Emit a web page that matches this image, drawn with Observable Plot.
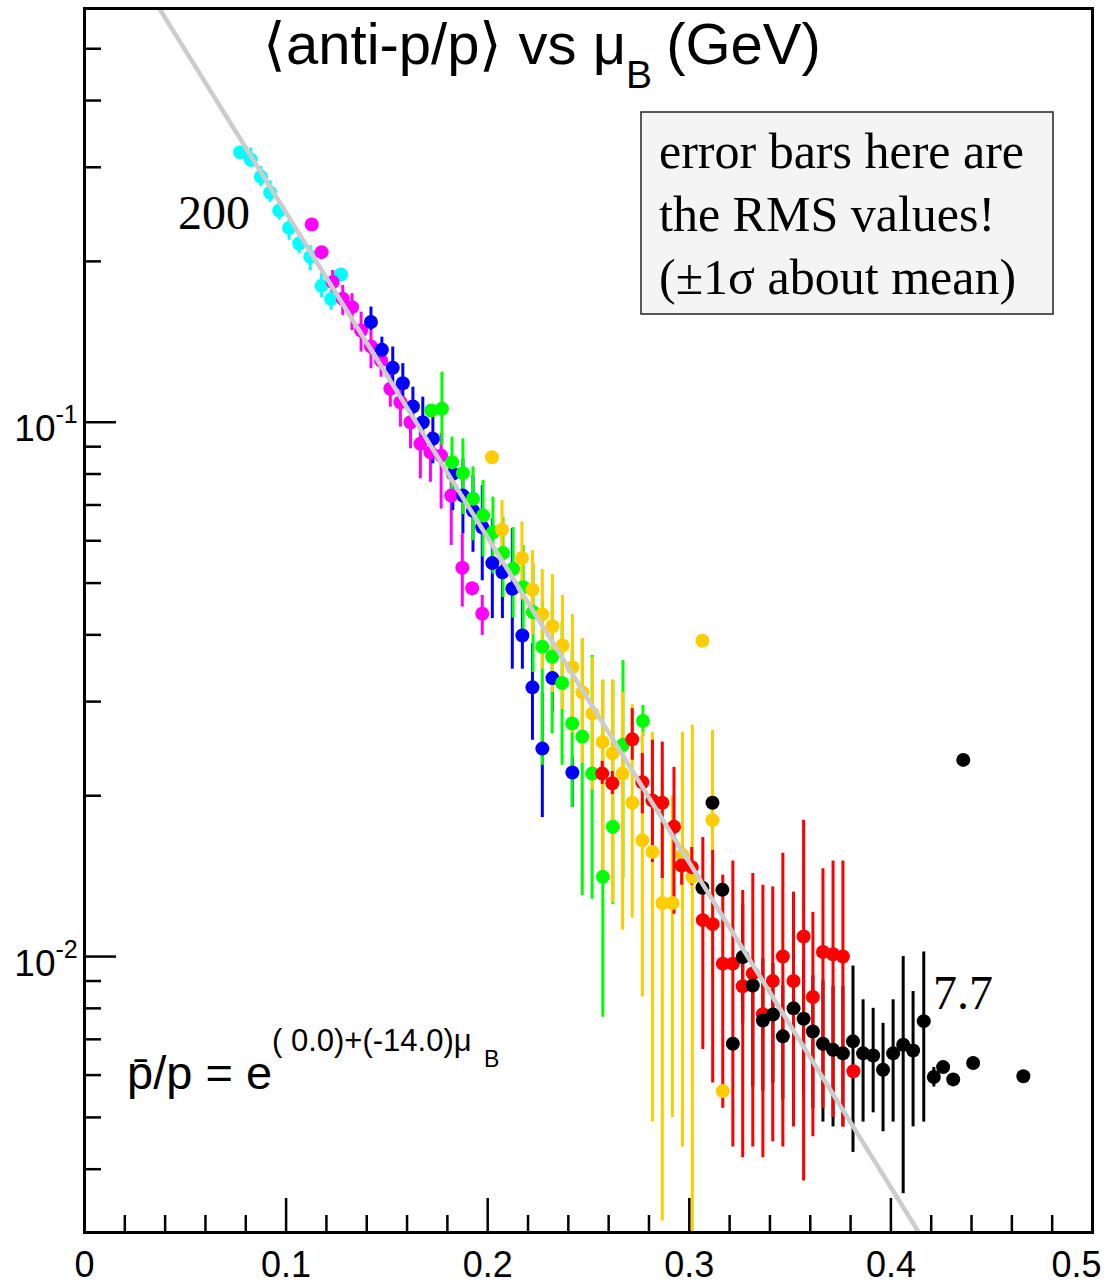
<!DOCTYPE html>
<html>
<head>
<meta charset="utf-8">
<script src="https://cdn.jsdelivr.net/npm/d3@7"></script>
<script src="https://cdn.jsdelivr.net/npm/@observablehq/plot@0.6"></script>
<style>
  html, body { margin: 0; padding: 0; background: #fff; }
  svg { display: block; }
</style>
</head>
<body>
<div id="chart"></div>
<script>
// <anti-p/p> versus baryon chemical potential, one series per beam energy (GeV).
// Each point: mu_B, mean ratio, and the ends of its +-1 sigma (RMS) bar.

const energies = ["200", "62.4", "39", "27", "19.6", "11.5", "7.7"];
const colors   = ["#00ffff", "#ff00ff", "#0000ff", "#00ff00", "#ffcc00", "#ff0000", "#000000"];

const mu200    = [0.0772, 0.0825, 0.0875, 0.0921, 0.0966, 0.1015, 0.1065, 0.1120, 0.1176, 0.1223, 0.1272];
const ratio200 = [0.320, 0.310, 0.288, 0.269, 0.249, 0.231, 0.216, 0.204, 0.180, 0.170, 0.189];
const lo200    = [0.312, 0.300, 0.276, 0.258, 0.239, 0.219, 0.207, 0.192, 0.171, 0.162, 0.184];
const hi200    = [0.328, 0.326, 0.301, 0.283, 0.260, 0.242, 0.227, 0.214, 0.190, 0.177, 0.194];

const mu62    = [0.1127, 0.1176, 0.1231, 0.1281, 0.1327, 0.1372, 0.1421, 0.1471, 0.1517, 0.1567, 0.1617, 0.1666, 0.1716, 0.1769, 0.1819, 0.1874, 0.1923, 0.1973];
const ratio62 = [0.2344, 0.2081, 0.1829, 0.1703, 0.1642, 0.1485, 0.1386, 0.1305, 0.1155, 0.1090, 0.1000, 0.0911, 0.0878, 0.0866, 0.0729, 0.0534, 0.0489, 0.0438];
const lo62    = [0.231, 0.205, 0.1742, 0.1585, 0.1485, 0.1353, 0.1259, 0.1214, 0.1067, 0.0979, 0.0892, 0.0784, 0.0772, 0.0688, 0.0588, 0.0451, 0.0478, 0.0399];
const hi62    = [0.238, 0.211, 0.1923, 0.1803, 0.1740, 0.1607, 0.1485, 0.1402, 0.1250, 0.1180, 0.1067, 0.1007, 0.0958, 0.0953, 0.0854, 0.0618, 0.0500, 0.0474];

const mu39    = [0.1421, 0.1475, 0.1529, 0.1579, 0.1629, 0.1678, 0.1728, 0.1827, 0.1877, 0.1927, 0.1973, 0.2023, 0.2073, 0.2122, 0.2172, 0.2222, 0.2271, 0.2321, 0.2420];
const ratio39 = [0.1540, 0.1367, 0.1265, 0.1183, 0.1070, 0.1000, 0.0931, 0.0801, 0.0729, 0.0683, 0.0636, 0.0545, 0.0524, 0.0488, 0.0399, 0.0319, 0.0245, 0.0332, 0.0221];
const lo39    = [0.1485, 0.1287, 0.1147, 0.1082, 0.0979, 0.0898, 0.0836, 0.0683, 0.0618, 0.0571, 0.0505, 0.0429, 0.0429, 0.0345, 0.0345, 0.0254, 0.0182, 0.0287, 0.0190];
const hi39    = [0.1643, 0.1443, 0.1383, 0.1287, 0.1163, 0.1114, 0.1044, 0.0860, 0.0854, 0.0795, 0.0761, 0.0659, 0.0632, 0.0632, 0.0491, 0.0385, 0.0311, 0.0380, 0.0236];

const mu27    = [0.1720, 0.1773, 0.1823, 0.1877, 0.1927, 0.1977, 0.2026, 0.2076, 0.2126, 0.2176, 0.2225, 0.2271, 0.2320, 0.2369, 0.2419, 0.2469, 0.2518, 0.2571, 0.2621, 0.2671, 0.2770];
const ratio27 = [0.1052, 0.1060, 0.0842, 0.0803, 0.0719, 0.0669, 0.0622, 0.0569, 0.0532, 0.0491, 0.0441, 0.0380, 0.0364, 0.0325, 0.0273, 0.0258, 0.0220, 0.0141, 0.0175, 0.0249, 0.0276];
const lo27    = [0.103, 0.0905, 0.0745, 0.0672, 0.0600, 0.0560, 0.0520, 0.0470, 0.0430, 0.0395, 0.0340, 0.0228, 0.0261, 0.0228, 0.0190, 0.0130, 0.0128, 0.0077, 0.0125, 0.0140, 0.0258];
const hi27    = [0.107, 0.1241, 0.0938, 0.0931, 0.0825, 0.0778, 0.0724, 0.0664, 0.0635, 0.0588, 0.0544, 0.0467, 0.0470, 0.0422, 0.0374, 0.0390, 0.0366, 0.0329, 0.0329, 0.0358, 0.0295];

const mu19    = [0.2021, 0.2071, 0.2170, 0.2222, 0.2271, 0.2321, 0.2371, 0.2420, 0.2470, 0.2520, 0.2570, 0.2619, 0.2669, 0.2717, 0.2767, 0.2817, 0.2866, 0.2916, 0.2966, 0.3015, 0.3065, 0.3115, 0.3166];
const ratio19 = [0.0860, 0.0629, 0.0557, 0.0486, 0.0437, 0.0415, 0.0382, 0.0348, 0.0312, 0.0285, 0.0252, 0.0240, 0.0220, 0.0194, 0.0165, 0.0157, 0.0126, 0.0126, 0.0155, 0.0141, 0.0390, 0.0180, 0.0056];
const lo19    = [0.0855, 0.0545, 0.0465, 0.0400, 0.0345, 0.0312, 0.0290, 0.0262, 0.0230, 0.0205, 0.0144, 0.0126, 0.0112, 0.0118, 0.0084, 0.0049, 0.0032, 0.0050, 0.0044, 0.0020, 0.0388, 0.0092, 0.0055];
const hi19    = [0.0865, 0.0714, 0.0651, 0.0575, 0.0530, 0.0519, 0.0474, 0.0437, 0.0394, 0.0363, 0.0329, 0.0329, 0.0312, 0.0296, 0.0263, 0.0263, 0.0214, 0.0200, 0.0263, 0.0271, 0.0392, 0.0265, 0.0057];

const mu11    = [0.2568, 0.2618, 0.2717, 0.2767, 0.2817, 0.2866, 0.2924, 0.2962, 0.3012, 0.3067, 0.3116, 0.3166, 0.3216, 0.3265, 0.3315, 0.3365, 0.3414, 0.3464, 0.3517, 0.3567, 0.3613, 0.3663, 0.3713, 0.3762, 0.3814];
const ratio11 = [0.0220, 0.0211, 0.0255, 0.0212, 0.0196, 0.0194, 0.0175, 0.0148, 0.0147, 0.0117, 0.0115, 0.0097, 0.0097, 0.0088, 0.0093, 0.0078, 0.0090, 0.0100, 0.0090, 0.0109, 0.0084, 0.0102, 0.0101, 0.0100, 0.0061];
const lo11    = [0.0210, 0.0201, 0.0233, 0.0185, 0.0150, 0.0140, 0.0120, 0.0136, 0.0136, 0.0067, 0.0058, 0.0052, 0.0044, 0.0042, 0.0044, 0.0042, 0.0045, 0.0044, 0.0048, 0.0038, 0.0046, 0.0052, 0.0050, 0.0048, 0.0060];
const hi11    = [0.0232, 0.0222, 0.0291, 0.0240, 0.0254, 0.0252, 0.0226, 0.0160, 0.0160, 0.0167, 0.0158, 0.0142, 0.0151, 0.0133, 0.0143, 0.0136, 0.0135, 0.0156, 0.0132, 0.0180, 0.0121, 0.0146, 0.0151, 0.0151, 0.0062];

const mu7    = [0.3065, 0.3115, 0.3164, 0.3216, 0.3265, 0.3315, 0.3365, 0.3415, 0.3464, 0.3517, 0.3567, 0.3613, 0.3663, 0.3713, 0.3762, 0.3812, 0.3862, 0.3912, 0.3961, 0.4011, 0.4061, 0.4110, 0.4163, 0.4213, 0.4259, 0.4309, 0.4359, 0.4408, 0.4657];
const ratio7 = [0.01345, 0.0194, 0.01333, 0.00687, 0.00998, 0.00883, 0.00759, 0.00779, 0.00709, 0.00800, 0.00765, 0.00724, 0.00687, 0.00669, 0.00659, 0.00694, 0.00659, 0.00653, 0.00614, 0.00659, 0.00684, 0.00667, 0.00757, 0.00595, 0.00621, 0.00589, 0.02334, 0.00632, 0.00597];
const lo7    = [0.0133, 0.0192, 0.0132, 0.0068, 0.0075, 0.0057, 0.0056, 0.0058, 0.0054, 0.0060, 0.0055, 0.0052, 0.0049, 0.0048, 0.0048, 0.0043, 0.0049, 0.0051, 0.0047, 0.0049, 0.0036, 0.0048, 0.0049, 0.0057, 0.0061, 0.0058, 0.0232, 0.0062, 0.0059];
const hi7    = [0.0136, 0.0196, 0.0135, 0.0070, 0.0125, 0.0098, 0.0099, 0.0097, 0.0088, 0.0098, 0.0098, 0.0092, 0.0090, 0.0088, 0.0088, 0.0096, 0.0083, 0.0080, 0.0075, 0.0083, 0.0100, 0.0086, 0.0102, 0.0062, 0.0063, 0.0060, 0.0235, 0.0064, 0.0061];

// fit: ratio = exp(a + b * mu_B)
const fitA = 0.0;
const fitB = -14.0;
const fitMu = [0.0, 0.5];

// axis ticks
const xMajor = [0, 0.1, 0.2, 0.3, 0.4, 0.5];
const xLabels = ["0", "0.1", "0.2", "0.3", "0.4", "0.5"];
const xMinor = [0.02, 0.04, 0.06, 0.08, 0.12, 0.14, 0.16, 0.18, 0.22, 0.24, 0.26, 0.28, 0.32, 0.34, 0.36, 0.38, 0.42, 0.44, 0.46, 0.48];
const yMajor = [0.1, 0.01];
const yExponents = ["-1", "-2"];
const yMinor = [0.004, 0.005, 0.006, 0.007, 0.008, 0.009, 0.02, 0.03, 0.04, 0.05, 0.06, 0.07, 0.08, 0.09, 0.2, 0.3, 0.4, 0.5];

const seriesByEnergy = {
  "200":  [mu200, ratio200, lo200, hi200],
  "62.4": [mu62, ratio62, lo62, hi62],
  "39":   [mu39, ratio39, lo39, hi39],
  "27":   [mu27, ratio27, lo27, hi27],
  "19.6": [mu19, ratio19, lo19, hi19],
  "11.5": [mu11, ratio11, lo11, hi11],
  "7.7":  [mu7, ratio7, lo7, hi7]
};

function rowsFor(order) {
  return order.flatMap(e => {
    const [m, r, lo, hi] = seriesByEnergy[e];
    return m.map((mu, i) => ({energy: e, mu, ratio: r[i], lo: lo[i], hi: hi[i]}));
  });
}
// bars: red drawn over black; markers: black drawn last
const barRows = rowsFor(["200", "62.4", "39", "27", "19.6", "7.7", "11.5"]);
const dotRows = rowsFor(["200", "62.4", "39", "27", "19.6", "11.5", "7.7"]);
const fitRows = fitMu.map(mu => ({mu, ratio: Math.exp(fitA + fitB * mu)}));

const sans = "'Liberation Sans', Arial, Helvetica, sans-serif";
const serif = "'Liberation Serif', 'Times New Roman', serif";

// inward-pointing ticks only; labels are drawn separately
const tickOpts = {label: null, fill: "none", stroke: "#000", strokeWidth: 2.5};

const chart = Plot.plot({
  width: 1114,
  height: 1284,
  marginLeft: 84,
  marginRight: 22,
  marginTop: 8,
  marginBottom: 52,
  style: {background: "#fff", fontFamily: sans},
  x: {domain: [0, 0.5], axis: null, label: null},
  y: {type: "log", domain: [0.003045, 0.5947], axis: null, label: null},
  color: {domain: energies, range: colors},
  marks: [
    Plot.ruleX(barRows, {x: "mu", y1: "lo", y2: "hi", stroke: "energy", strokeWidth: 3, clip: true}),
    Plot.dot(dotRows, {x: "mu", y: "ratio", r: 7, fill: "energy", clip: true}),
    Plot.line(fitRows, {x: "mu", y: "ratio", stroke: "#cccccc", strokeWidth: 4.5, clip: true}),

    Plot.axisX({anchor: "bottom", ticks: xMinor, tickSize: -17, ...tickOpts}),
    Plot.axisX({anchor: "bottom", ticks: xMajor, tickSize: -34, ...tickOpts}),
    Plot.axisY({anchor: "left", ticks: yMinor, tickSize: -17, ...tickOpts}),
    Plot.axisY({anchor: "left", ticks: yMajor, tickSize: -32, ...tickOpts}),

    Plot.text(xMajor.slice(0, 5), {x: d => d, text: (d, i) => xLabels[i], frameAnchor: "bottom", lineAnchor: "bottom", dy: 44, fontSize: 36, fontFamily: sans, fill: "#000"}),
    Plot.text(xMajor.slice(5), {x: d => d, text: () => xLabels[5], frameAnchor: "bottom", lineAnchor: "bottom", dy: 44, dx: -16, fontSize: 36, fontFamily: sans, fill: "#000"}),
    Plot.text(yMajor, {y: d => d, text: () => "10", frameAnchor: "left", textAnchor: "end", lineAnchor: "bottom", dx: -29, dy: 19, fontSize: 37, fontFamily: sans, fill: "#000"}),
    Plot.text(yMajor, {y: d => d, text: (d, i) => yExponents[i], frameAnchor: "left", textAnchor: "start", lineAnchor: "bottom", dx: -29, dy: 1, fontSize: 25, fontFamily: sans, fill: "#000"}),

    Plot.frame({stroke: "#000", strokeWidth: 3})
  ]
});

document.getElementById("chart").appendChild(chart);

// annotations
const svg = d3.select(chart);
const notes = svg.append("g").attr("fill", "#000").attr("text-anchor", "start");

const title = notes.append("text")
  .attr("x", 263).attr("y", 64)
  .attr("font-family", sans).attr("font-size", 58);
title.append("tspan").text("\u27E8anti-p/p\u27E9 vs \u03BC");
title.append("tspan").attr("font-size", 39).attr("dy", 24).text("B");
title.append("tspan").attr("dy", -24).attr("dx", 14).text("(GeV)");

notes.append("rect")
  .attr("x", 641).attr("y", 112).attr("width", 412).attr("height", 202)
  .attr("fill", "#f4f4f4").attr("stroke", "#222").attr("stroke-width", 1.5);
const boxLines = ["error bars here are", "the RMS values!", "(\u00B11\u03C3 about mean)"];
boxLines.forEach((s, i) => {
  notes.append("text")
    .attr("x", 659).attr("y", 168 + i * 63)
    .attr("font-family", serif).attr("font-size", 50)
    .text(s);
});

notes.append("text").attr("x", 178).attr("y", 229)
  .attr("font-family", serif).attr("font-size", 48).text("200");
notes.append("text").attr("x", 933).attr("y", 1009)
  .attr("font-family", serif).attr("font-size", 48).text("7.7");

notes.append("text").attr("x", 127).attr("y", 1089)
  .attr("font-family", sans).attr("font-size", 47).text("p\u0304/p = e");
notes.append("text").attr("x", 272).attr("y", 1051)
  .attr("font-family", sans).attr("font-size", 31).text("( 0.0)+(-14.0)\u03BC");
notes.append("text").attr("x", 484).attr("y", 1067)
  .attr("font-family", sans).attr("font-size", 23).text("B");
</script>
</body>
</html>
